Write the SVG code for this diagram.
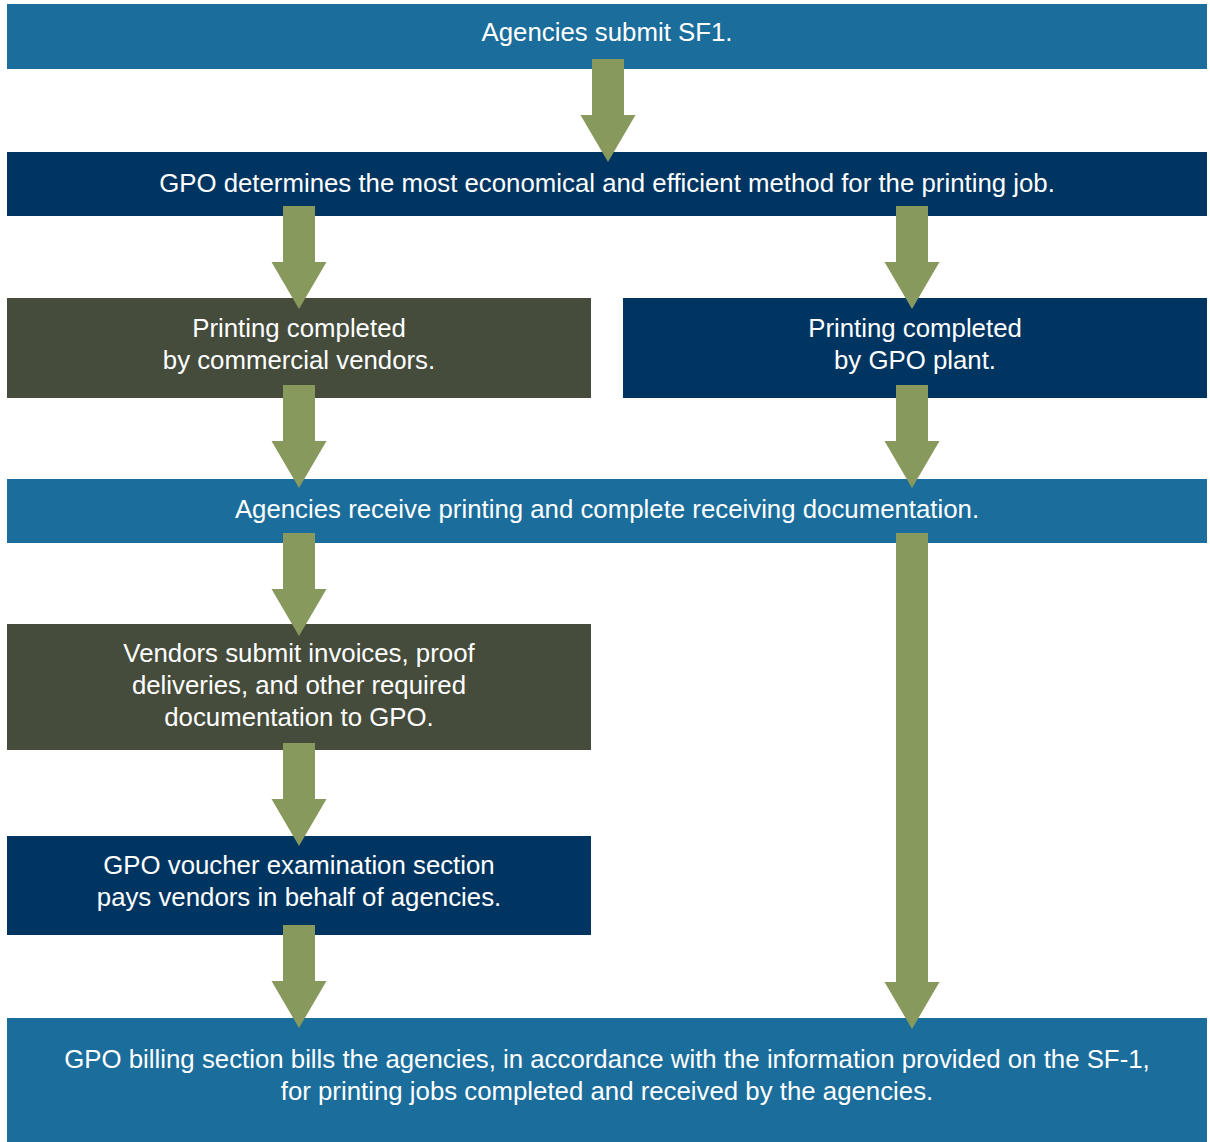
<svg xmlns="http://www.w3.org/2000/svg" width="1210" height="1142" viewBox="0 0 1210 1142">
<style>
.lb{fill:#1b6d9b}
.nv{fill:#003562}
.ol{fill:#454c3c}
.ar{fill:#87995c}
text{font-family:"Liberation Sans",Arial,sans-serif;font-size:25.8px;fill:#ffffff;text-anchor:middle}
</style>
<defs>
<path id="arr" d="M-16,0 H16 V56 H27.5 L0,103 L-27.5,56 H-16 Z"/>
</defs>
<rect width="1210" height="1142" fill="#ffffff"/>
<g id="n1"><rect class="lb" x="7" y="4" width="1200" height="65"/><text x="607" y="41">Agencies submit SF1.</text></g>
<g id="n2"><rect class="nv" x="7" y="152" width="1200" height="64"/><text x="607" y="192">GPO determines the most economical and efficient method for the printing job.</text></g>
<g id="n3"><rect class="ol" x="7" y="298" width="584" height="100"/><text x="299" y="337">Printing completed</text><text x="299" y="369">by commercial vendors.</text></g>
<g id="n4"><rect class="nv" x="623" y="298" width="584" height="100"/><text x="915" y="337">Printing completed</text><text x="915" y="369">by GPO plant.</text></g>
<g id="n5"><rect class="lb" x="7" y="479" width="1200" height="64"/><text x="607" y="518">Agencies receive printing and complete receiving documentation.</text></g>
<g id="n6"><rect class="ol" x="7" y="624" width="584" height="126"/><text x="299" y="662">Vendors submit invoices, proof</text><text x="299" y="694">deliveries, and other required</text><text x="299" y="726">documentation to GPO.</text></g>
<g id="n7"><rect class="nv" x="7" y="836" width="584" height="99"/><text x="299" y="874">GPO voucher examination section</text><text x="299" y="906">pays vendors in behalf of agencies.</text></g>
<g id="n8"><rect class="lb" x="7" y="1018" width="1200" height="124"/><text x="607" y="1068">GPO billing section bills the agencies, in accordance with the information provided on the SF-1,</text><text x="607" y="1100">for printing jobs completed and received by the agencies.</text></g>
<g id="connectors">
<use href="#arr" class="ar" x="608" y="59"/>
<use href="#arr" class="ar" x="299" y="206"/>
<use href="#arr" class="ar" x="912" y="206"/>
<use href="#arr" class="ar" x="299" y="385"/>
<use href="#arr" class="ar" x="912" y="385"/>
<use href="#arr" class="ar" x="299" y="533"/>
<use href="#arr" class="ar" x="299" y="743"/>
<use href="#arr" class="ar" x="299" y="925"/>
<path class="ar" d="M896,533 H928 V982 H939.5 L912,1029 L884.5,982 H896 Z"/>
</g>
</svg>
